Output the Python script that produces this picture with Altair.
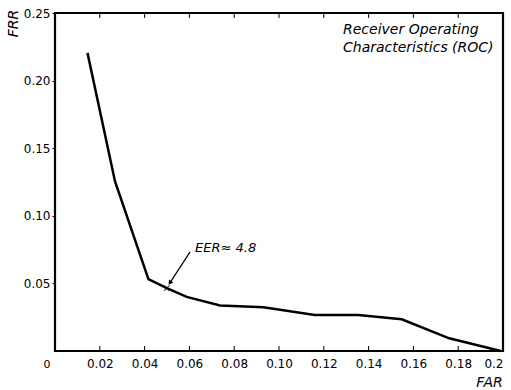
import altair as alt
import pandas as pd

# ROC curve values
far = [0.0145, 0.0268, 0.0417, 0.0499, 0.0588, 0.0737, 0.0930, 0.1160, 0.1354, 0.1548, 0.1760, 0.1990]
frr = [0.2205, 0.1254, 0.0531, 0.0465, 0.0400, 0.0336, 0.0324, 0.0267, 0.0267, 0.0235, 0.0094, 0.0000]

x_ticks = [0.0, 0.02, 0.04, 0.06, 0.08, 0.10, 0.12, 0.14, 0.16, 0.18, 0.20]
y_ticks = [0.05, 0.10, 0.15, 0.20, 0.25]

eer_far = [0.0499]
eer_frr = [0.0465]
eer_label = ["EER\u2248 4.8"]
arrow_from = [0.0603, 0.0733]
arrow_to = [0.0513, 0.0504]
roc_title = ["Receiver Operating", "Characteristics (ROC)"]

FONT = "DejaVu Sans"

curve = pd.DataFrame({"far": far, "frr": frr})
ticks_df = pd.DataFrame({"t": x_ticks[1:-1]})
zero_df = pd.DataFrame({"t": [x_ticks[0]], "lab": ["0"]})
eer_df = pd.DataFrame({"far": eer_far, "frr": eer_frr})
arrow_df = pd.DataFrame({"x": [arrow_from[0]], "y": [arrow_from[1]],
                         "x2": [arrow_to[0]], "y2": [arrow_to[1]]})
head_df = pd.DataFrame({"x": [arrow_to[0]], "y": [arrow_to[1]]})
text_df = pd.DataFrame({"x": [arrow_from[0] + 0.0022], "y": [arrow_from[1] + 0.0030], "t": eer_label})

x_scale = alt.Scale(domain=[0, 0.2], nice=False, zero=False)
y_scale = alt.Scale(domain=[0, 0.25], nice=False, zero=False)

x_axis = alt.Axis(
    values=x_ticks[1:], ticks=False, grid=False, domain=False,
    labelExpr="datum.value > 0.19 ? '0.2' : format(datum.value, '.2f')",
    labelFlush=False, labelPadding=7, labelFontSize=12, labelFont=FONT, labelColor="black",
    labelAlign={"condition": {"test": "datum.value > 0.19", "value": "right"}, "value": "center"},
    title="FAR", titleFont=FONT, titleFontSize=14, titleFontStyle="italic", titleFontWeight="normal",
    titleColor="black", titleX=434, titleY=31, titleAlign="center", titleBaseline="middle",
)
y_axis = alt.Axis(
    values=y_ticks, format=".2f", ticks=True, tickSize=3, tickColor="black", tickWidth=1,
    grid=False, domain=False, labelPadding=2, labelFontSize=12, labelFont=FONT, labelColor="black",
    title="FRR", titleFont=FONT, titleFontSize=14, titleFontStyle="italic", titleFontWeight="normal",
    titleColor="black", titleX=-42, titleY=10, titleAngle=270, titleAlign="center", titleBaseline="middle",
)


def X(field):
    return alt.X(field, type="quantitative", scale=x_scale, axis=x_axis)


def Y(field):
    return alt.Y(field, type="quantitative", scale=y_scale, axis=y_axis)


line = alt.Chart(curve).mark_line(color="black", strokeWidth=2.5, strokeJoin="miter").encode(
    x=X("far"), y=Y("frr")
)

bottom_ticks = alt.Chart(ticks_df).mark_rule(color="black", strokeWidth=1).encode(
    x=X("t"), y=alt.value(338), y2=alt.value(333)
)
top_ticks = alt.Chart(ticks_df).mark_rule(color="black", strokeWidth=1).encode(
    x=X("t"), y=alt.value(0), y2=alt.value(5)
)

zero_label = alt.Chart(zero_df).mark_text(
    font=FONT, fontSize=11, align="center", baseline="middle", color="black", dx=-8
).encode(x=X("t"), y=alt.value(352), text="lab:N")

marker = alt.Chart(eer_df).mark_point(
    shape="M-1,-1L1,1M-1,1L1,-1", size=30, color="black", strokeWidth=1.3, filled=False
).encode(x=X("far"), y=Y("frr"))

arrow = alt.Chart(arrow_df).mark_rule(color="black", strokeWidth=1.2).encode(
    x=X("x"), y=Y("y"), x2="x2", y2="y2"
)
head = alt.Chart(head_df).mark_point(
    shape="triangle-down", size=28, color="black", filled=True, opacity=1, angle=33
).encode(x=X("x"), y=Y("y"))

eer_text = alt.Chart(text_df).mark_text(
    font=FONT, fontSize=13, fontStyle="italic", align="left", baseline="middle", color="black"
).encode(x=X("x"), y=Y("y"), text="t:N")

roc = alt.Chart(pd.DataFrame({"t": [roc_title]})).mark_text(
    font=FONT, fontSize=14, fontStyle="italic", align="left", baseline="middle",
    color="black", lineHeight=18
).encode(x=alt.value(288), y=alt.value(17), text="t")

chart = alt.layer(line, bottom_ticks, top_ticks, zero_label, marker, arrow, head, eer_text, roc).properties(
    width=448, height=338,
    autosize=alt.AutoSizeParams(type="none"),
    padding={"left": 55, "top": 13, "right": 8, "bottom": 39},
    background="white",
).configure_view(stroke="black", strokeWidth=2.2)

chart.save("out.html", embed_options={"renderer": "svg", "actions": False})
